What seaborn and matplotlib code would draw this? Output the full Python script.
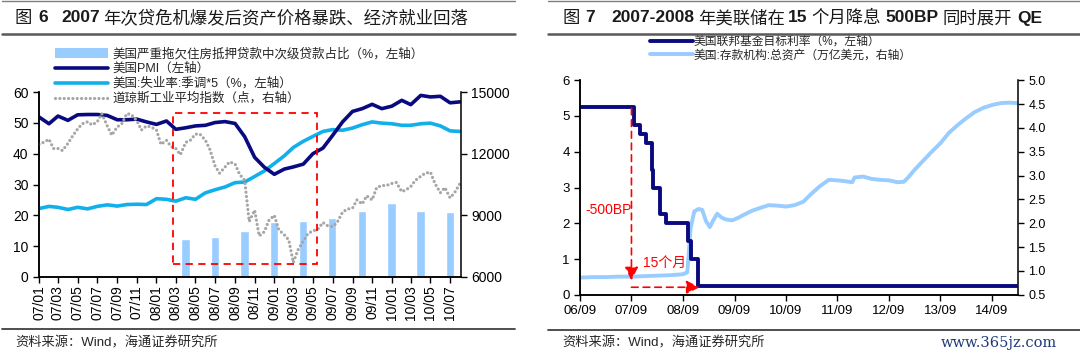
import matplotlib
matplotlib.use("Agg")
import matplotlib.pyplot as plt
import matplotlib.dates as mdates
from matplotlib.lines import Line2D
from matplotlib.patches import Patch, Rectangle
from matplotlib.ticker import FormatStrFormatter
import pandas as pd
import seaborn as sns

# ---- data: figure 6 (monthly, 2007/01 - 2010/08) ----
months = pd.date_range("2007-01-01", "2010-08-01", freq="MS")
pmi = [51.9, 49.7, 52.2, 50.8, 52.6, 52.7, 52.7, 52.4, 51.0, 51.0, 51.2, 50.3,
       49.5, 50.6, 47.9, 48.4, 49.0, 49.2, 50.1, 50.4, 49.8, 45.5, 38.8, 35.6,
       33.3, 35.0, 35.7, 36.6, 40.0, 41.8, 45.9, 50.3, 53.7, 54.6, 56.0, 54.6,
       55.4, 57.3, 55.9, 58.9, 58.4, 58.6, 56.5, 56.8]
unemp5 = [22.2, 22.9, 22.6, 21.9, 22.6, 22.1, 22.9, 23.4, 23.0, 23.5, 23.6, 23.5,
          25.4, 25.2, 24.6, 25.7, 25.2, 27.3, 28.3, 29.2, 30.6, 30.8, 32.6, 34.4,
          36.8, 39.3, 42.0, 44.0, 45.6, 47.2, 47.8, 47.6, 48.3, 49.4, 50.3, 49.9,
          49.7, 49.2, 49.2, 49.7, 49.9, 49.0, 47.4, 47.2]

# subprime share of seriously delinquent mortgages, quarterly
quarter_ends = pd.to_datetime(["2008-03-31", "2008-06-30", "2008-09-30", "2008-12-31",
                               "2009-03-31", "2009-06-30", "2009-09-30", "2009-12-31",
                               "2010-03-31", "2010-06-30"])
subprime = [12.2, 13.0, 15.0, 17.9, 18.2, 19.2, 21.5, 23.9, 21.4, 21.0]

# Dow Jones industrial average, twice a month
dj_dates = pd.date_range("2007-01-01", "2010-08-01", freq="SMS")
dj = [12450, 12550, 12700, 12250, 12250, 12150, 12500, 12850, 13200, 13450, 13550, 13400,
      13550, 13950, 13350, 12900, 13300, 13450, 13950, 13900, 13600, 13150, 13350, 13300,
      13150, 12450, 12650, 12350, 12250, 11950, 12550, 12650, 12950, 12950, 12650, 12200,
      11400, 11050, 11350, 11600, 11500, 11000, 10700, 8700, 9250, 8000, 8200, 8750,
      9000, 8300, 8050, 7800, 6700, 7300, 7750, 8100, 8250, 8300, 8650, 8500,
      8450, 8650, 9150, 9300, 9350, 9750, 9550, 9950, 9750, 10350, 10450, 10450,
      10550, 10600, 10150, 10250, 10400, 10700, 10900, 11050, 11100, 10550, 10100, 10350,
      9850, 10100, 10550]

# ---- data: figure 7 ----
rate_dates = pd.to_datetime(["2006-09-01", "2007-09-18", "2007-10-31", "2007-12-11",
                             "2008-01-22", "2008-01-30", "2008-03-18", "2008-04-30",
                             "2008-10-08", "2008-10-29", "2008-12-16", "2015-03-05"])
fed_rate = [5.25, 4.75, 4.50, 4.25, 3.50, 3.00, 2.25, 2.00, 1.50, 1.00, 0.25, 0.25]

asset_dates = pd.to_datetime([
    "2006-09-01", "2006-12-01", "2007-03-01", "2007-06-01", "2007-09-01", "2007-12-01",
    "2008-03-01", "2008-06-01", "2008-09-01", "2008-10-01", "2008-10-25", "2008-11-20",
    "2008-12-20", "2009-01-15", "2009-02-10", "2009-03-10", "2009-04-01", "2009-05-01",
    "2009-06-01", "2009-07-01", "2009-08-15", "2009-10-01", "2009-11-01", "2010-01-01",
    "2010-03-01", "2010-05-01", "2010-07-01", "2010-09-01", "2010-11-01", "2011-01-01",
    "2011-03-01", "2011-05-01", "2011-07-01", "2011-09-01", "2011-11-01", "2011-12-15",
    "2012-01-01", "2012-03-01", "2012-05-01", "2012-07-01", "2012-09-01", "2012-11-01",
    "2012-12-15", "2013-01-15", "2013-03-01", "2013-05-01", "2013-07-01", "2013-09-01",
    "2013-11-01", "2014-01-01", "2014-03-01", "2014-05-01", "2014-07-01", "2014-09-01",
    "2014-11-01", "2015-01-01", "2015-03-05"])
assets = [0.86, 0.87, 0.87, 0.88, 0.88, 0.89,
          0.90, 0.91, 0.93, 0.97, 1.90, 2.25,
          2.30, 2.28, 2.05, 1.92, 2.05, 2.20,
          2.12, 2.08, 2.06, 2.12, 2.17, 2.26,
          2.32, 2.38, 2.37, 2.35, 2.38, 2.45,
          2.62, 2.78, 2.91, 2.90, 2.88, 2.86,
          2.96, 2.98, 2.93, 2.91, 2.90, 2.86,
          2.87, 2.96, 3.12, 3.31, 3.50, 3.68,
          3.90, 4.06, 4.20, 4.33, 4.42, 4.48,
          4.52, 4.53, 4.52]

NAVY = "#0A0A80"
CYAN = "#12B0EA"
LIGHT = "#99CCFF"
GREY = "#A6A6A6"
RED = "#FF0000"
DOTS = (0, (0.01, 1.35))

sns.set_style("ticks")
plt.rcParams["font.family"] = ["Liberation Sans", "Noto Sans CJK SC"]
plt.rcParams["axes.unicode_minus"] = False

W, H = 1080, 359
fig = plt.figure(figsize=(W / 100, H / 100), dpi=100)


def fx(px):
    return px / W


def fy(py):
    return 1 - py / H


def draw_title(x_px, y_px, pieces, size=12.5):
    """Draw a title made of pieces (text, bold, gap in px after it)"""
    renderer = fig.canvas.get_renderer()
    x = x_px
    for text, bold, gap in pieces:
        t = fig.text(fx(x), fy(y_px), text, fontsize=size,
                     fontweight="bold" if bold else "normal",
                     va="center", ha="left", color="#1a1a1a")
        x += t.get_window_extent(renderer=renderer).width + gap


def hline(x0, x1, y, color, lw):
    fig.add_artist(Line2D([fx(x0), fx(x1)], [fy(y), fy(y)], color=color, lw=lw))


def style_axes(a, labelsize):
    a.tick_params(axis="both", direction="out", length=4, width=1,
                  labelsize=labelsize, colors="black")
    for s in a.spines.values():
        s.set_linewidth(1.1)
        s.set_color("black")
    a.spines["top"].set_visible(False)
    a.set_xlabel("")
    a.set_ylabel("")


# ================= left chart =================
ax = fig.add_axes([fx(39), fy(277), fx(461 - 39), (277 - 92) / H])
ax.bar(quarter_ends, subprime, width=pd.Timedelta(days=26), color=LIGHT, zorder=1)
sns.lineplot(x=months, y=pmi, ax=ax, color=NAVY, linewidth=2.6, zorder=3)
sns.lineplot(x=months, y=unemp5, ax=ax, color=CYAN, linewidth=2.6, zorder=2)
ax.set_ylim(0, 60)
ax.set_yticks(range(0, 61, 10))

ax2 = ax.twinx()
sns.lineplot(x=dj_dates, y=dj, ax=ax2, color=GREY, linewidth=2.3,
             linestyle=DOTS, dash_capstyle="round")
ax2.set_ylim(6000, 15000)
ax2.set_yticks(range(6000, 15001, 3000))

ax.set_xlim(pd.Timestamp("2007-01-01"), pd.Timestamp("2010-08-04"))
ax.set_xticks(pd.date_range("2007-01-01", "2010-07-01", freq="2MS"))
ax.xaxis.set_major_formatter(mdates.DateFormatter("%y/%m"))
style_axes(ax, 10)
style_axes(ax2, 10)
ax.spines["right"].set_visible(False)
ax.tick_params(axis="x", labelrotation=90, labelsize=10, pad=2)

# crisis box
box_x0 = mdates.date2num(pd.Timestamp("2008-02-22"))
box_x1 = mdates.date2num(pd.Timestamp("2009-05-15"))
ax2.add_patch(Rectangle((box_x0, 4.2), box_x1 - box_x0, 49.0, transform=ax.transData,
                        fill=False, edgecolor=RED, linestyle=(0, (4, 3)), linewidth=1.3,
                        zorder=5))

left_labels = ["美国严重拖欠住房抵押贷款中次级贷款占比（%，左轴）", "美国PMI（左轴）",
               "美国:失业率:季调*5（%，左轴）", "道琼斯工业平均指数（点，右轴）"]
left_handles = [Patch(facecolor=LIGHT, edgecolor="none"),
                Line2D([], [], color=NAVY, lw=2.6),
                Line2D([], [], color=CYAN, lw=2.6),
                Line2D([], [], color=GREY, lw=2.3, linestyle=DOTS, dash_capstyle="round")]
ax2.legend(left_handles, left_labels, loc="upper left", bbox_to_anchor=(fx(55), fy(48)),
           bbox_transform=fig.transFigure, frameon=False, fontsize=9, handlelength=4.2,
           handleheight=0.8, handletextpad=0.4, labelspacing=0.2, borderpad=0,
           borderaxespad=0)

# ================= right chart =================
axr = fig.add_axes([fx(580), fy(294.75), fx(1018 - 580), (294.75 - 80.25) / H])
axr2 = axr.twinx()
sns.lineplot(x=asset_dates, y=assets, ax=axr2, color=LIGHT, linewidth=2.8)
sns.lineplot(x=rate_dates, y=fed_rate, ax=axr, color=NAVY, linewidth=2.8,
             drawstyle="steps-post")
axr.set_zorder(axr2.get_zorder() + 1)
axr.patch.set_visible(False)
axr.set_ylim(0, 6)
axr.set_yticks(range(0, 7))
axr2.set_ylim(0.5, 5.0)
axr2.set_yticks([0.5 + 0.5 * i for i in range(10)])
axr2.yaxis.set_major_formatter(FormatStrFormatter("%.1f"))
axr.set_xlim(pd.Timestamp("2006-09-01"), pd.Timestamp("2015-03-05"))
axr.set_xticks(pd.date_range("2006-09-01", "2014-09-01", freq="12MS"))
axr.xaxis.set_major_formatter(mdates.DateFormatter("%y/%m"))
style_axes(axr, 9.5)
style_axes(axr2, 9)
axr.spines["right"].set_visible(False)
axr.tick_params(axis="y", labelsize=9.5)

# 500bp cut over 15 months
cut_start = pd.Timestamp("2007-09-01")
axr.annotate("", xy=(cut_start, 0.40), xytext=(cut_start, 5.22),
             arrowprops=dict(arrowstyle="-|>,head_length=0.8,head_width=0.4", color=RED,
                             lw=1.2, linestyle=(0, (4, 3)), shrinkA=0, shrinkB=0))
axr.annotate("", xy=(pd.Timestamp("2008-12-28"), 0.21), xytext=(cut_start, 0.21),
             arrowprops=dict(arrowstyle="-|>,head_length=0.8,head_width=0.4", color=RED,
                             lw=1.2, linestyle=(0, (4, 3)), shrinkA=0, shrinkB=0))
axr.text(pd.Timestamp("2007-03-25"), 2.36, "-500BP", color=RED, fontsize=10,
         ha="center", va="center")
axr.text(pd.Timestamp("2008-04-25"), 0.88, "15个月", color=RED, fontsize=10,
         ha="center", va="center")

right_labels = ["美国联邦基金目标利率（%，左轴）", "美国:存款机构:总资产（万亿美元，右轴）"]
right_handles = [Line2D([], [], color=NAVY, lw=2.8), Line2D([], [], color=LIGHT, lw=2.8)]
axr.legend(right_handles, right_labels, loc="upper left", bbox_to_anchor=(fx(650), fy(36)),
           bbox_transform=fig.transFigure, frameon=False, fontsize=8.5, handlelength=3.6,
           handletextpad=0.1, labelspacing=0.12, borderpad=0, borderaxespad=0)

# ================= titles, rules, sources =================
draw_title(15, 18, [("图", False, 6), ("6", True, 13), ("2007", True, 3),
                    ("年次贷危机爆发后资产价格暴跌、经济就业回落", False, 0)])
draw_title(563, 18, [("图", False, 5), ("7", True, 16), ("2007-2008", True, 4),
                     ("年美联储在", False, 3), ("15", True, 4), ("个月降息", False, 5),
                     ("500BP", True, 4), ("同时展开", False, 5), ("QE", True, 0)])

hline(2, 515, 1, "#7f7f7f", 1.0)
hline(2, 515, 33.5, "#595959", 1.8)
hline(2, 515, 329, "#404040", 1.3)
hline(548, 1080, 1, "#7f7f7f", 1.0)
hline(548, 1080, 33.5, "#595959", 1.8)
hline(548, 1080, 330, "#404040", 1.3)

fig.text(fx(15), fy(343), "资料来源：Wind，海通证券研究所", fontsize=9.5, va="center",
         color="#262626")
fig.text(fx(562), fy(343), "资料来源：Wind，海通证券研究所", fontsize=9.5, va="center",
         color="#262626")
fig.text(fx(1057), fy(343), "www.365jz.com", fontsize=10.5, va="center", ha="right",
         color="#1F3A7A", family="DejaVu Serif")

fig.savefig("out.png", dpi=100)
